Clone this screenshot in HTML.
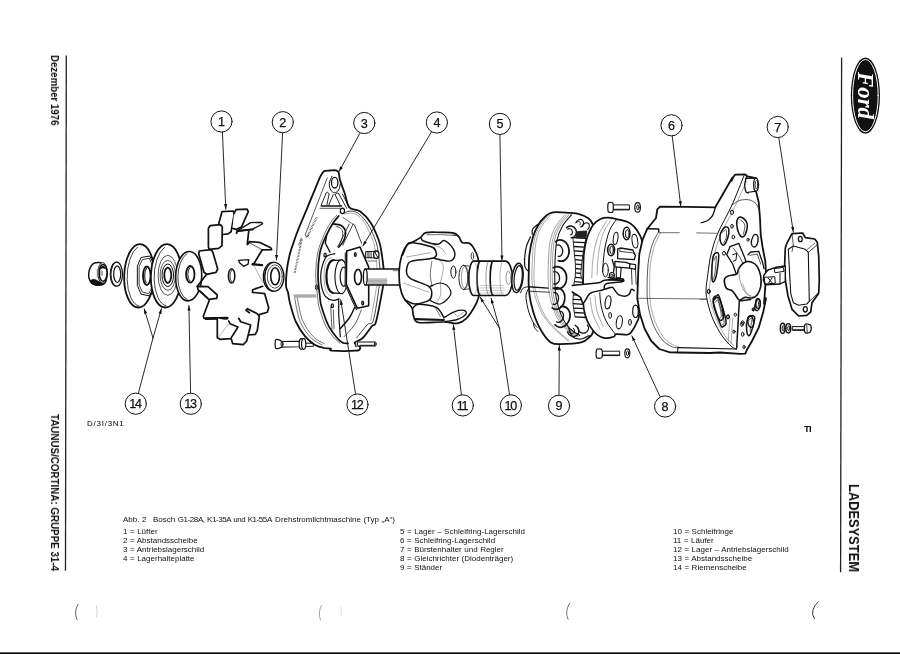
<!DOCTYPE html>
<html lang="de">
<head>
<meta charset="utf-8">
<title>Ladesystem – Abb. 2 Bosch Drehstromlichtmaschine</title>
<style>
html,body{margin:0;padding:0;background:#fff;}
body{width:900px;height:654px;position:relative;overflow:hidden;font-family:"Liberation Sans",sans-serif;color:#111;}
#page{position:absolute;left:0;top:0;width:900px;height:654px;background:#fff;overflow:hidden;}
svg{position:absolute;left:0;top:0;}
.cl{font-family:"Liberation Sans",sans-serif;fill:#111;}
.vt{position:absolute;white-space:nowrap;font-weight:bold;transform-origin:0 0;transform:rotate(90deg) scale(0.89,1);line-height:1;will-change:transform;}
.cap{will-change:transform;position:absolute;white-space:nowrap;font-size:8px;line-height:9.1px;color:#111;word-spacing:0.3px;}
.cap div{height:9.1px;}
.bar{position:absolute;left:0;top:652px;width:900px;height:2px;background:#222;}
.vl{position:absolute;width:1.3px;background:#222;}
</style>
</head>
<body>
<div id="page">
<div class="vt" id="dez" style="left:60.1px;top:54.8px;font-size:11px;transform:rotate(90deg) scale(0.88,1);">Dezember 1976</div>
<div class="vt" id="tau" style="left:59.9px;top:413.8px;font-size:11px;">TAUNUS/CORTINA: GRUPPE 31-4</div>
<div class="vt" id="lad" style="left:862.3px;top:483.8px;font-size:15px;transform:rotate(90deg) scale(0.859,1);">LADESYSTEM</div>
<div class="cap" id="c0" style="left:123.3px;top:514.7px;"><span id="abb" style="display:inline-block;width:30px;">Abb. 2</span><span id="bosch">Bosch <span style="letter-spacing:-0.42px;word-spacing:0.6px;">G1-28A, K1-35A und K1-55A</span><span style="margin-left:3.3px;"></span>Drehstromlichtmaschine (Typ „A“)</span></div>
<div class="cap" id="c1" style="left:123.3px;top:527.2px;">
<div>1 = Lüfter</div><div>2 = Abstandsscheibe</div><div>3 = Antriebslagerschild</div><div>4 = Lagerhalteplatte</div></div>
<div class="cap" id="c2" style="left:400px;top:527.2px;">
<div>5 = Lager – Schleifring-Lagerschild</div><div>6 = Schleifring-Lagerschild</div><div>7 = Bürstenhalter und Regler</div><div>8 = Gleichrichter (Diodenträger)</div><div>9 = Ständer</div></div>
<div class="cap" id="c3" style="left:672.8px;top:527.2px;">
<div>10 = Schleifringe</div><div>11 = Läufer</div><div>12 = Lager – Antriebslagerschild</div><div>13 = Abstandsscheibe</div><div>14 = Riemenscheibe</div></div>
<div class="cap" id="fig" style="left:86.7px;top:419.2px;font-size:8px;letter-spacing:0.75px;color:#000;">D/3I/3N1</div>
<div class="cap" id="ti" style="left:804.3px;top:423.6px;font-size:9.5px;font-weight:bold;letter-spacing:-0.8px;">TI</div>
<svg width="900" height="654" viewBox="0 0 900 654" stroke-linecap="round" stroke-linejoin="round">
<line x1="66.3" y1="55.5" x2="65.5" y2="570.7" stroke="#222" stroke-width="1.3" stroke-linecap="butt"/>
<line x1="841.6" y1="57.5" x2="840.6" y2="572.3" stroke="#222" stroke-width="1.3" stroke-linecap="butt"/>
<ellipse cx="865.4" cy="95.6" rx="14.6" ry="38.2" fill="#111"/>
<ellipse cx="865.4" cy="95.6" rx="12.8" ry="36.1" fill="none" stroke="#fff" stroke-width="1"/>
<text transform="translate(858.2 72) rotate(90)" font-family="Liberation Serif,serif" font-style="italic" font-weight="bold" font-size="23" fill="#fff" textLength="47" lengthAdjust="spacingAndGlyphs">Ford</text>
<line x1="222.4" y1="131.8" x2="225.8" y2="209.2" stroke="#111" stroke-width="0.9"/>
<path d="M225.8 209.2 L224 204.3 L227.2 204.1 Z" fill="#111"/>
<line x1="282.6" y1="132.8" x2="276.4" y2="260" stroke="#111" stroke-width="0.9"/>
<path d="M276.4 260 L275 254.9 L278.2 255.1 Z" fill="#111"/>
<line x1="153" y1="338" x2="144.2" y2="308.8" stroke="#111" stroke-width="0.9"/>
<path d="M144.2 308.8 L147.2 313.1 L144.1 314 Z" fill="#111"/>
<line x1="153" y1="338" x2="161.4" y2="308.8" stroke="#111" stroke-width="0.9"/>
<path d="M161.4 308.8 L161.6 314 L158.5 313.2 Z" fill="#111"/>
<line x1="138.3" y1="393.5" x2="153" y2="338" stroke="#111" stroke-width="0.9"/>
<line x1="190.6" y1="393.3" x2="188.9" y2="305.5" stroke="#111" stroke-width="0.9"/>
<path d="M188.9 305.5 L190.6 310.5 L187.4 310.5 Z" fill="#111"/>
<path d="M92.5 264.2 C94.2 262.2 97.1 262.3 99.2 262.5 C101.2 262.7 103.7 263.6 105 265.5 C106.3 267.4 106.8 271.3 106.8 274.2 C106.8 277 106.4 280.8 105 282.7 C103.6 284.5 100.6 285.1 98.3 285.2 C96.1 285.2 93.3 284.8 91.7 283 C90.1 281.2 88.5 277.3 88.7 274.2 C88.8 271 90.8 266.1 92.5 264.2 Z" fill="#fff" stroke="#111" stroke-width="1.5" />
<ellipse cx="102.6" cy="272.9" rx="4.7" ry="10.3" fill="#fff" stroke="#111" stroke-width="0.9"/>
<ellipse cx="103.1" cy="272.9" rx="4" ry="8.4" fill="#fff" stroke="#111" stroke-width="1.6"/>
<path d="M99.57186544342508 270.03058103975536 Q102.93577981651376 261.4678899082569 106.60550458715596 270.03058103975536 Q102.93577981651376 266.43730886850153 99.57186544342508 270.03058103975536 Z" fill="#111"/>
<line x1="100.6" y1="271" x2="100.6" y2="275.2" stroke="#555" stroke-width="0.5"/>
<line x1="101.6" y1="271" x2="101.6" y2="275.2" stroke="#555" stroke-width="0.5"/>
<line x1="102.5" y1="271" x2="102.5" y2="275.2" stroke="#555" stroke-width="0.5"/>
<path d="M90.7 280.6 C91.1 279.9 93 279.2 94.5 279.4 C96.1 279.7 98.6 281.3 100 282.1 C101.5 282.9 103.8 283.6 103.3 284.2 C102.8 284.7 99 285.4 97.2 285.3 C95.4 285.3 93.3 284.6 92.2 283.8 C91.1 283 90.3 281.3 90.7 280.6 Z" fill="#111" stroke="#111" stroke-width="0.8" />
<line x1="97.2" y1="269.1" x2="97.2" y2="277.5" stroke="#666" stroke-width="0.5"/>
<line x1="98" y1="269.5" x2="98" y2="276.8" stroke="#888" stroke-width="0.5"/>
<ellipse cx="115.7" cy="274.2" rx="5.5" ry="12" fill="#fff" stroke="#111" stroke-width="1"/>
<ellipse cx="116.7" cy="274.2" rx="5.8" ry="12" fill="#fff" stroke="#111" stroke-width="1.2"/>
<ellipse cx="117.2" cy="274.2" rx="3.5" ry="8.3" fill="#fff" stroke="#111" stroke-width="1.2"/>
<ellipse cx="139.2" cy="275.8" rx="15" ry="31.7" fill="#fff" stroke="#111" stroke-width="1.8" transform="rotate(2 139.2 275.8)"/>
<path d="M138.9 306 A14 30.3 2 0 1 137.4 247.2" fill="none" stroke="#111" stroke-width="0.8"/>
<path d="M137.5 265.8 L141 257.5 L149.7 256 L153.7 264.2 L153.7 287.5 L149.2 295.8 L141 294.2 L137.5 285.8 Z" fill="#fff" stroke="#111" stroke-width="1" />
<path d="M139.3 266.3 L142.3 259.7 L149.3 258.3 L152.3 265 L152.3 286.7 L148.7 293.7 L142.3 292 L139.3 285.3 Z" fill="none" stroke="#111" stroke-width="0.8" />
<ellipse cx="146.8" cy="275.8" rx="3.8" ry="9.3" fill="#fff" stroke="#111" stroke-width="1.8"/>
<path d="M146.1 282.8 A2.8 8 0 0 1 146.5 268.3" fill="none" stroke="#111" stroke-width="1"/>
<ellipse cx="166.2" cy="275.8" rx="15.3" ry="31.7" fill="#fff" stroke="#111" stroke-width="1.8" transform="rotate(2 166.2 275.8)"/>
<path d="M165.9 305.7 A14 30 2 0 1 164.4 247.5" fill="none" stroke="#111" stroke-width="0.8"/>
<ellipse cx="167.8" cy="275.3" rx="9.7" ry="20" fill="none" stroke="#111" stroke-width="0.7"/>
<ellipse cx="167.8" cy="275.3" rx="7.7" ry="15" fill="none" stroke="#111" stroke-width="0.7"/>
<ellipse cx="167.8" cy="275.3" rx="5.8" ry="11.3" fill="none" stroke="#111" stroke-width="1"/>
<ellipse cx="167.8" cy="275.3" rx="3.5" ry="7.7" fill="#fff" stroke="#111" stroke-width="1.8"/>
<ellipse cx="188.7" cy="276.2" rx="13" ry="24.7" fill="#fff" stroke="#111" stroke-width="1.6" transform="rotate(2 188.7 276.2)"/>
<path d="M187.2 299.4 A12.3 23.7 2 0 1 186.7 253.8" fill="none" stroke="#111" stroke-width="0.8"/>
<ellipse cx="190.3" cy="274.3" rx="4.2" ry="8.3" fill="#fff" stroke="#111" stroke-width="1.8"/>
<path d="M189.9 281.1 A3.2 7.2 0 0 1 189.9 267.6" fill="none" stroke="#111" stroke-width="0.9"/>
<path d="M199.3 251 L210.7 249.7 L212.7 251.7 L217.7 269 L216 272.3 L206.7 274.3 L204 272.3 L198.7 253.7 Z" fill="#fff" stroke="#111" stroke-width="1.7" />
<path d="M206.7 274.3 L197.3 286.3" fill="none" stroke="#111" stroke-width="1.7" />
<path d="M197.3 286.3 L208 286.7 L217.3 295 L216.7 298.3 L208.7 299.4 L198 289.7 Z" fill="#fff" stroke="#111" stroke-width="1.7" />
<line x1="200" y1="290.3" x2="208" y2="297.7" stroke="#111" stroke-width="0.7"/>
<path d="M218.7 223.7 L222 211.7 L233.3 211 L234.3 213.7 L231.1 231.7 L228 233.9 L222.7 234.5" fill="#fff" stroke="#111" stroke-width="1.7" />
<path d="M234 213.7 L236 209.7 L247.1 209.1 L248.3 211.7 L241.7 226.7 L236 229.4 L232.4 228.3" fill="#fff" stroke="#111" stroke-width="1.7" />
<path d="M210 225.7 L220.4 224.6 L222.3 227 L222 245.7 L218.7 248.3 L209.3 249.4 L208.4 247 L208.4 228.3 Z" fill="#fff" stroke="#111" stroke-width="1.7" />
<path d="M237.3 230.7 L250.7 222.6 L261.7 222.3 L262.7 223.8 L252.7 229.1 L238.7 231.3 Z" fill="#fff" stroke="#111" stroke-width="1.3" />
<path d="M236.7 233 L237.3 230.7 L252.7 229.4" fill="none" stroke="#111" stroke-width="2" />
<path d="M248.7 231.3 L247.3 244.1" fill="none" stroke="#111" stroke-width="1.7" />
<path d="M247.6 244.6 L249.3 241.7 L259.3 242.3 L270.7 247.7 L271.6 249.7 L262 249.9" fill="#fff" stroke="#111" stroke-width="1.7" />
<line x1="249.3" y1="242.7" x2="262" y2="249.7" stroke="#111" stroke-width="0.7"/>
<path d="M262 250.3 L254.3 263 L252.7 264.3" fill="none" stroke="#111" stroke-width="1.7" />
<path d="M252.7 264.3 L262 265.1" fill="none" stroke="#111" stroke-width="2.4" />
<line x1="254.3" y1="266.3" x2="262.7" y2="282.3" stroke="#666" stroke-width="0.5"/>
<path d="M238.7 260.3 L248.7 259.7 L248.1 264.1 L243.6 266.3 L239.6 262.7 Z" fill="none" stroke="#111" stroke-width="1.3" />
<ellipse cx="231.6" cy="275.9" rx="3.2" ry="7.2" fill="none" stroke="#111" stroke-width="1.5"/>
<path d="M231.6 281.7 A2.4 6.1 0 0 1 231.6 270.2" fill="none" stroke="#111" stroke-width="0.8"/>
<path d="M262.7 286.3 L252.7 289.7 L252.4 292.3 L264.7 293.7 L268.7 307.7 L267.3 312.3 L259.3 314.6" fill="none" stroke="#111" stroke-width="1.7" />
<path d="M248.7 335 L255.3 334.3 L257.3 330.3 L259.3 316.3 L257.3 313.7 L247.3 308.7 L246 310.3 L249.3 312.7" fill="none" stroke="#111" stroke-width="1.7" />
<path d="M231.3 339 L232.7 343.7 L243.3 344.6 L246.7 341 L250.7 325 L240.7 321.7 L238.7 318.3" fill="#fff" stroke="#111" stroke-width="1.7" />
<path d="M227.3 318.3 L204 318.3 L203.3 316.3 L209.3 300.3" fill="none" stroke="#111" stroke-width="1.7" />
<line x1="206" y1="318.6" x2="227.3" y2="318.1" stroke="#111" stroke-width="2.6"/>
<path d="M217.3 318.3 L217.3 337.7 L220 339.3 L230.7 338.6 L238 327 L230 323.7 L228.7 321" fill="#fff" stroke="#111" stroke-width="1.7" />
<line x1="218.7" y1="337" x2="228.7" y2="323.7" stroke="#666" stroke-width="0.5"/>
<ellipse cx="272.9" cy="276.7" rx="9.6" ry="14.4" fill="#fff" stroke="#111" stroke-width="1.2"/>
<ellipse cx="274.3" cy="276.7" rx="9.6" ry="14.4" fill="#fff" stroke="#111" stroke-width="1.3"/>
<ellipse cx="274.8" cy="276.5" rx="7.5" ry="11.7" fill="none" stroke="#111" stroke-width="0.7"/>
<ellipse cx="275.1" cy="276.3" rx="4.4" ry="8.5" fill="#fff" stroke="#111" stroke-width="1.6"/>
<path d="M276 341.6 L300 341.3 L300 346.7 L276 347.1" fill="#fff" stroke="#111" stroke-width="1.1" />
<path d="M282 341.7 C281.1 340.5 277.8 339.5 276.7 339.4 C275.6 339.3 275.6 339.7 275.3 341 C275.1 342.3 275.1 345.7 275.3 347 C275.6 348.3 275.6 348.8 276.7 348.7 C277.8 348.7 281.1 347.8 282 346.6 C282.9 345.4 282.9 342.9 282 341.7 Z" fill="#fff" stroke="#111" stroke-width="1.2" />
<ellipse cx="282" cy="344.1" rx="0.9" ry="2.7" fill="#fff" stroke="#111" stroke-width="1"/>
<path d="M305.3 343.1 L313.3 343.3 L313.3 346.3 L305.3 346.5" fill="#fff" stroke="#111" stroke-width="1" />
<ellipse cx="301.3" cy="344" rx="2.1" ry="5.3" fill="#fff" stroke="#111" stroke-width="1.2"/>
<ellipse cx="303.7" cy="344" rx="2.1" ry="5.3" fill="#fff" stroke="#111" stroke-width="1.2"/>
<path d="M324 171.3 C325.7 170.2 328 170.7 330 170.5 C332 170.4 334.6 170 336 170.4 C337.4 170.8 338 171.1 338.7 172.7 C339.3 174.3 339 176.6 340 180 C341 183.4 343.1 188.8 344.7 193.3 C346.2 197.9 346.8 204.3 349.3 207.3 C351.9 210.3 356.4 208.8 360 211.3 C363.6 213.9 367.6 217.9 370.7 222.7 C373.8 227.4 376.9 235.3 378.7 240 C380.4 244.7 380.4 245.2 381.3 251 C382.2 256.8 383.8 268.8 384 275 C384.2 281.2 384 280.6 382.7 288.3 C381.3 296.1 377.8 315.4 376 321.7 C374.2 327.9 374.2 323.3 372 326 C369.8 328.7 365.6 335.2 362.7 338 C359.8 340.8 355.2 341.3 354.7 342.7 C354.1 344 358.4 345 359.3 346 C360.2 347 360.6 347.9 360 348.7 C359.4 349.4 360.7 350.3 356 350.7 C351.3 351 336.2 351 332 350.7 C327.8 350.3 332 349.1 330.7 348.7 C329.3 348.2 326.7 348.7 324 348 C321.3 347.3 317.8 346.6 314.7 344.7 C311.6 342.8 308.4 340.4 305.3 336.7 C302.2 332.9 298.6 327.6 296 322 C293.4 316.4 291.3 308.3 290 303.3 C288.7 298.4 288.7 295.3 288 292.3 C287.3 289.4 286.2 289.4 286 285.7 C285.8 281.9 286.3 274.8 286.9 269.7 C287.5 264.6 288.7 258.9 289.6 255 C290.5 251.1 291 250.2 292.3 246.3 C293.6 242.5 294.9 238.2 297.3 232 C299.7 225.8 304 215.8 306.7 209.3 C309.3 202.9 311.1 198.7 313.3 193.3 C315.6 188 318.2 181 320 177.3 C321.8 173.7 322.3 172.5 324 171.3 Z" fill="#fff" stroke="#111" stroke-width="1.8" />
<path d="M327.3 178 L321.3 193.3 L307.3 229.3 L305.3 234.7 L306.7 237.3 L308.7 234.7" fill="none" stroke="#111" stroke-width="0.7" />
<path d="M307.3333333333333 236.66666666666669 L316.6666666666667 217.33333333333334" stroke="#111" stroke-width="2" stroke-dasharray="0.5 1" fill="none" stroke-linecap="butt"/>
<path d="M294.6666666666667 273.0 L302.0 238.33333333333334" stroke="#111" stroke-width="2" stroke-dasharray="0.5 1" fill="none" stroke-linecap="butt"/>
<path d="M298.6666666666667 245.33333333333331 L301.3333333333333 238.0" stroke="#111" stroke-width="1.6" stroke-dasharray="0.5 1" fill="none" stroke-linecap="butt"/>
<ellipse cx="334.7" cy="182.7" rx="3.2" ry="5.3" fill="none" stroke="#111" stroke-width="1.3"/>
<path d="M332 176.3 C331.6 177.4 329.6 181 329.3 183.3 C329.1 185.6 329.8 188.4 330.7 190 C331.6 191.6 333.3 192.8 334.7 192.8 C336 192.8 337.7 191.5 338.7 190 C339.6 188.5 340 185 340.3 184" fill="none" stroke="#111" stroke-width="1" />
<path d="M326 193.3 L321.3 205.1" fill="none" stroke="#111" stroke-width="0.9" />
<path d="M329.1 194 L326.9 204.7" fill="none" stroke="#111" stroke-width="0.9" />
<path d="M326 193.3 C326.2 193.1 326.8 191.9 327.3 192 C327.8 192.1 328.8 193.7 329.1 194" fill="none" stroke="#111" stroke-width="0.9" />
<path d="M333.3 194.4 L328.7 205.3" fill="none" stroke="#111" stroke-width="0.9" />
<path d="M335.3 194.9 L340.3 205.6" fill="none" stroke="#111" stroke-width="0.9" />
<path d="M338.7 193.6 L346.7 208.3" fill="none" stroke="#111" stroke-width="0.9" />
<path d="M335.3 194.9 C335.6 194.6 336.1 193.3 336.7 193.1 C337.2 192.8 338.3 193.5 338.7 193.6" fill="none" stroke="#111" stroke-width="0.9" />
<path d="M342.4 194 L349.3 207.3" fill="none" stroke="#111" stroke-width="0.9" />
<line x1="321.3" y1="206" x2="341.6" y2="206" stroke="#111" stroke-width="1.6"/>
<line x1="320" y1="208.3" x2="340" y2="208.3" stroke="#111" stroke-width="0.7"/>
<ellipse cx="342.4" cy="210.9" rx="2.1" ry="2.7" fill="#fff" stroke="#111" stroke-width="1.2"/>
<path d="M344.7 212.7 C345.7 212.4 348.3 210.9 350.7 211.1 C353 211.2 355.8 211.4 358.7 213.6 C361.6 215.8 365.2 219.9 368 224.3 C370.8 228.7 373.7 235.5 375.3 240 C377 244.5 377.2 245.2 378 251 C378.8 256.8 380.1 268.8 380.3 275 C380.4 281.2 380.1 280.8 378.9 288.3 C377.8 295.9 375.3 314.3 373.3 320.3 C371.4 326.4 370.1 321.7 367.3 324.7 C364.6 327.6 358.4 335.8 356.7 338" fill="none" stroke="#111" stroke-width="0.8" />
<path d="M344 214.4 C345.1 214.2 348.3 212.8 350.7 213.1 C353 213.3 355.4 213.7 358 215.7 C360.6 217.8 363.6 221.3 366 225.3 C368.4 229.4 371.1 235.7 372.7 240 C374.2 244.3 374.6 245.2 375.3 251 C376.1 256.8 377.2 268.8 377.3 275 C377.5 281.2 377.4 280.8 376.3 288.3 C375.2 295.9 371.6 315 370.7 320.3" fill="none" stroke="#555" stroke-width="0.5" />
<path d="M338.7 216 C337.8 217.1 335.3 219.6 333.3 222.7 C331.3 225.8 328.9 229.7 326.7 234.7 C324.4 239.6 321.4 245.6 320 252.3 C318.6 259.1 318 267.4 318 275 C318 282.6 319.4 292.5 320 297.7 C320.6 302.8 320 301.5 321.3 306 C322.7 310.5 325.6 319.6 328 324.7 C330.4 329.8 333.6 333.7 336 336.7 C338.4 339.7 340.7 341.6 342.7 342.7 C344.7 343.8 347.1 343.2 348 343.3" fill="none" stroke="#111" stroke-width="1.7" />
<path d="M336.7 215.3 C335.8 216.4 333.4 218.5 331.3 221.6 C329.3 224.7 326.6 229 324.4 234.1 C322.2 239.3 319.3 245.5 317.9 252.3 C316.4 259.1 315.8 267.4 315.7 275 C315.7 282.6 317.2 292.4 317.7 297.7 C318.3 302.9 317.7 302.1 318.9 306.7 C320.2 311.2 322.9 319.9 325.3 324.9 C327.7 330 330.9 333.9 333.3 336.9 C335.8 340 338.9 342 340 343.1" fill="none" stroke="#111" stroke-width="0.6" />
<path d="M294 295.1 L316 295.1" fill="none" stroke="#111" stroke-width="0.6" />
<path d="M294.4 296.9 L316 296.9" fill="none" stroke="#111" stroke-width="0.6" />
<path d="M297.3 298 C298.2 301.8 300 314.2 302.7 320.7 C305.3 327.1 309.8 332.8 313.3 336.7 C316.9 340.5 322.2 342.4 324 343.6" fill="none" stroke="#111" stroke-width="0.6" />
<path d="M294.7 298 C295.6 301.9 297.3 314.7 300 321.3 C302.7 328 307.3 333.8 310.9 337.7 C314.6 341.7 320.2 343.7 322 344.9" fill="none" stroke="#111" stroke-width="0.6" />
<path d="M333.3 224 C334.6 224.2 338.7 224.2 340.7 225.3 C342.7 226.4 344.8 228.2 345.3 230.7 C345.9 233.1 345.1 237.2 344 240 C342.9 242.8 339.6 246.1 338.7 247.3" fill="none" stroke="#111" stroke-width="1.6" />
<path d="M336 226.7 C336.7 226.8 338.9 226.8 340 227.7 C341.1 228.6 342.4 230 342.7 232 C342.9 234 342.5 237.6 341.6 240 C340.7 242.4 338 245.6 337.3 246.7" fill="none" stroke="#111" stroke-width="0.7" />
<line x1="349.3" y1="224" x2="338.7" y2="245.3" stroke="#111" stroke-width="0.8"/>
<line x1="353.1" y1="224" x2="342.7" y2="245.3" stroke="#111" stroke-width="0.8"/>
<line x1="354.7" y1="225.3" x2="361.6" y2="243.3" stroke="#111" stroke-width="0.8"/>
<line x1="342.7" y1="217.3" x2="354.7" y2="225.3" stroke="#111" stroke-width="0.6"/>
<path d="M326.7 235 L325.3 243 L330 252.3" fill="none" stroke="#111" stroke-width="1.4" />
<path d="M338.7 298 L338.7 314 L340.3 336.7" fill="none" stroke="#111" stroke-width="1.2" />
<path d="M330.7 307.3 L332 330" fill="none" stroke="#111" stroke-width="0.7" />
<path d="M333.3 310 L334 328.7" fill="none" stroke="#111" stroke-width="0.7" />
<path d="M354.7 307.3 C353.8 309.1 351.8 314.4 349.3 318 C346.9 321.6 341.6 326.9 340 328.7" fill="none" stroke="#111" stroke-width="1.4" />
<path d="M361.3 310 C360.2 312.4 357.6 320.2 354.7 324.7 C351.8 329.1 345.8 334.7 344 336.7" fill="none" stroke="#111" stroke-width="0.7" />
<path d="M334.7 253.7 C333.3 254.1 328.7 254.3 326.7 256.3 C324.6 258.3 323.4 262.3 322.4 265.7 C321.4 269 320.7 272.6 320.7 276.3 C320.6 280.1 321.1 284.9 322 288.3 C322.9 291.8 324.1 295 326 297 C327.9 299 331.2 300 333.3 300.3 C335.4 300.7 337.8 299.2 338.7 299" fill="#fff" stroke="#111" stroke-width="1.2" />
<path d="M331.3 257.7 C330.4 258.3 327.2 258.6 326 261.7 C324.8 264.8 324 271.4 324 276.3 C324 281.2 324.8 287.7 326 291 C327.2 294.3 330.4 295.4 331.3 296.3" fill="none" stroke="#555" stroke-width="0.5" />
<ellipse cx="325.1" cy="255" rx="1.1" ry="1.9" fill="none" stroke="#111" stroke-width="1.3"/>
<ellipse cx="332.3" cy="305.7" rx="1.1" ry="1.9" fill="none" stroke="#111" stroke-width="1.3"/>
<ellipse cx="316.7" cy="287.3" rx="1.3" ry="2.4" fill="none" stroke="#111" stroke-width="1"/>
<ellipse cx="333.3" cy="276.6" rx="6.9" ry="16.3" fill="#fff" stroke="#111" stroke-width="2.2"/>
<path d="M333.3 260.3 L342.7 260.1 L342.7 293.4 L333.3 292.9" fill="#fff" stroke="#fff" stroke-width="0.1" />
<line x1="332.7" y1="260.3" x2="342.7" y2="260.1" stroke="#111" stroke-width="1.2"/>
<line x1="332.7" y1="292.9" x2="342.7" y2="293.7" stroke="#111" stroke-width="1.2"/>
<ellipse cx="341.3" cy="276.7" rx="6.4" ry="16.8" fill="#fff" stroke="#111" stroke-width="1.1"/>
<ellipse cx="343.7" cy="276.7" rx="3.5" ry="9.6" fill="none" stroke="#111" stroke-width="1.2"/>
<path d="M345.3 253 L345.1 285 L356.3 309.7 L358 308.3" fill="#fff" stroke="#111" stroke-width="1" />
<path d="M346.7 251 L360 247 L368.7 267 L368.7 305.7 L357.3 308.3 L346.3 284.3 Z" fill="#fff" stroke="#111" stroke-width="1.6" />
<ellipse cx="355.3" cy="254.5" rx="0.9" ry="1.9" fill="none" stroke="#111" stroke-width="1.4"/>
<ellipse cx="362.7" cy="303" rx="0.9" ry="1.9" fill="none" stroke="#111" stroke-width="1.4"/>
<ellipse cx="358" cy="277" rx="3.5" ry="7.6" fill="#fff" stroke="#111" stroke-width="1.6"/>
<path d="M365.3 269 L408 269 L408 285 L365.3 285" fill="#fff" stroke="#111" stroke-width="1.3" />
<ellipse cx="365.3" cy="277" rx="1.9" ry="8" fill="#fff" stroke="#111" stroke-width="1.3"/>
<line x1="368" y1="279" x2="386.7" y2="279" stroke="#333" stroke-width="0.5"/>
<line x1="368" y1="280.3" x2="386.7" y2="280.3" stroke="#333" stroke-width="0.5"/>
<line x1="368" y1="281.7" x2="386.7" y2="281.7" stroke="#333" stroke-width="0.5"/>
<line x1="368" y1="283" x2="386.7" y2="283" stroke="#333" stroke-width="0.5"/>
<line x1="368" y1="284.1" x2="386.7" y2="284.1" stroke="#333" stroke-width="0.5"/>
<line x1="393.3" y1="270.7" x2="400" y2="270.7" stroke="#111" stroke-width="0.6"/>
<path d="M366 251.7 L375.3 251.3 L375.3 257.9 L366 257.7 Z" fill="#fff" stroke="#111" stroke-width="1" />
<line x1="367.3" y1="251.8" x2="367.3" y2="257.7" stroke="#111" stroke-width="0.6"/>
<line x1="368.7" y1="251.8" x2="368.7" y2="257.7" stroke="#111" stroke-width="0.6"/>
<line x1="370" y1="251.8" x2="370" y2="257.7" stroke="#111" stroke-width="0.6"/>
<line x1="371.3" y1="251.8" x2="371.3" y2="257.7" stroke="#111" stroke-width="0.6"/>
<ellipse cx="376.3" cy="254.7" rx="2.7" ry="3.7" fill="#fff" stroke="#111" stroke-width="1.3"/>
<line x1="374.9" y1="252.1" x2="377.6" y2="257.4" stroke="#111" stroke-width="1"/>
<line x1="368" y1="261" x2="376" y2="261" stroke="#111" stroke-width="0.6"/>
<path d="M355.3 342 L375.3 342 L375.3 346 L355.3 346" fill="#fff" stroke="#111" stroke-width="1.1" />
<ellipse cx="375.3" cy="344" rx="0.8" ry="2" fill="#fff" stroke="#111" stroke-width="1"/>
<ellipse cx="356.3" cy="344" rx="1.1" ry="2.4" fill="#fff" stroke="#111" stroke-width="1"/>
<line x1="360" y1="345.3" x2="374" y2="345.3" stroke="#111" stroke-width="1"/>
<line x1="360.1" y1="133" x2="339.1" y2="171.5" stroke="#111" stroke-width="0.9"/>
<path d="M339.1 171.5 L340.1 166.3 L342.9 167.9 Z" fill="#111"/>
<line x1="431.5" y1="131.9" x2="362.9" y2="246" stroke="#111" stroke-width="0.9"/>
<path d="M362.9 246 L364.1 240.9 L366.8 242.5 Z" fill="#111"/>
<line x1="355.5" y1="393.5" x2="340.7" y2="299.7" stroke="#111" stroke-width="0.9"/>
<path d="M340.7 299.7 L343.1 304.4 L339.9 304.9 Z" fill="#111"/>
<line x1="461.4" y1="394.9" x2="453.3" y2="324.8" stroke="#111" stroke-width="0.9"/>
<path d="M453.3 324.8 L455.5 329.6 L452.3 330 Z" fill="#111"/>
<path d="M426.1 232.6 C429.5 231.7 435.8 232.3 440.4 232.4 C445 232.5 450.8 232.3 453.9 233.1 C456.9 233.8 457.5 235.2 458.9 236.8 C460.3 238.4 460.4 241.5 462.3 242.6 C464.1 243.8 467.6 241.9 469.8 243.5 C472.1 245 474.3 248.9 475.7 251.9 C477.2 254.8 477.9 256.7 478.6 261.1 C479.3 265.6 479.9 272.8 479.9 278.8 C479.9 284.8 479.7 292.2 478.6 297.3 C477.5 302.3 475.4 305.4 473.2 309 C471 312.7 468.3 316.7 465.6 319.1 C463 321.5 460.9 322.8 457.2 323.3 C453.6 323.8 450.2 322.1 443.8 322 C437.3 321.8 423.6 323.5 418.6 322.5 C413.5 321.4 414.6 318.3 413.5 315.8 C412.4 313.2 413.4 310.2 411.8 307.4 C410.3 304.6 406.2 302.3 404.3 298.9 C402.3 295.6 400.9 291.9 400.1 287.2 C399.2 282.4 399 275.7 399.2 270.4 C399.5 265.1 400.5 259.5 401.8 255.3 C403 251.1 405.1 247.3 406.8 245.2 C408.5 243.1 409.6 243.9 411.8 242.6 C414.1 241.4 417.9 239.3 420.3 237.6 C422.6 235.9 422.8 233.4 426.1 232.6 Z" fill="#fff" stroke="#111" stroke-width="1.7" />
<path d="M402.6 255.3 C403.3 253.6 405.3 247.6 406.8 245.5 C408.3 243.4 407.5 242.4 411.5 242.6 C415.6 242.9 427.1 245.4 431.2 246.8 C435.2 248.2 435.2 249.2 435.7 251.1 C436.2 252.9 438 256.1 434 257.8 C430.1 259.5 416.2 259.9 411.8 261.1 C407.5 262.4 408.5 263.2 407.6 265.3 C406.8 267.4 406.2 271.5 406.8 273.7 C407.4 276 407.4 276.7 411 278.8 C414.6 280.9 425.2 284.1 428.7 286.3 C432.1 288.6 431.5 290 431.7 292.2 C431.8 294.5 432.2 297.8 429.5 299.8 C426.8 301.8 419.3 304 415.2 304 C411.1 304 406.8 300.5 405.1 299.8" fill="none" stroke="#111" stroke-width="1.5" />
<path d="M421.1 238.1 C421.5 238.6 420.8 239.9 423.6 241 C426.4 242 434.5 244.4 437.9 244.3 C441.3 244.2 441.7 239.9 444.1 240.5 C446.6 241 450.8 245.1 452.5 247.7 C454.3 250.3 455.3 253.9 454.7 256.1 C454.1 258.3 452.6 260.8 449.2 261.1 C445.7 261.5 436.6 258.8 434 258.3" fill="none" stroke="#111" stroke-width="1.4" />
<path d="M430.3 286.3 C432 285.8 437.3 282.8 440.4 283 C443.5 283.2 447.2 285.4 448.8 287.5 C450.4 289.6 451.6 292.8 450.2 295.6 C448.8 298.3 443.7 303.2 440.4 304 C437.1 304.8 432 301.2 430.3 300.6" fill="none" stroke="#111" stroke-width="1.2" />
<path d="M412.7 308.2 C413.7 307.5 414.6 304.5 418.6 304.3 C422.5 304.2 432 305.2 436.2 307.4 C440.4 309.5 442.5 315.8 443.8 317.4" fill="none" stroke="#111" stroke-width="1.4" />
<path d="M443.8 317.8 C445.6 316.7 451.3 312.8 454.7 311.6 C458.1 310.3 462.1 310 463.9 310.4 C465.8 310.8 467.1 312.6 466 314.1 C464.8 315.6 460.6 318.2 457.2 319.5 C453.8 320.7 447.4 321.1 445.5 321.5" fill="none" stroke="#111" stroke-width="1.4" />
<line x1="415.2" y1="319.1" x2="443.8" y2="320" stroke="#111" stroke-width="2.2"/>
<path d="M427 234.7 L440.4 234.6 L453 235.4" fill="none" stroke="#111" stroke-width="0.6" />
<path d="M432 261.1 C431.7 263.2 430.3 269.5 430.3 273.7 C430.3 277.9 431.7 284.2 432 286.3" fill="none" stroke="#111" stroke-width="0.6" />
<path d="M406.8 256.9 L430.3 252.7" fill="none" stroke="#555" stroke-width="0.5" />
<path d="M403.4 283 L428.7 292.2" fill="none" stroke="#555" stroke-width="0.5" />
<path d="M424.5 241.8 C427.1 242.8 436.9 245.7 440.4 247.7 C443.9 249.6 444.6 252.6 445.5 253.6" fill="none" stroke="#555" stroke-width="0.5" />
<path d="M435.4 307.7 L440.4 316.6" fill="none" stroke="#111" stroke-width="0.6" />
<path d="M440.4 282.1 C440.4 284.4 441.3 291.9 440.4 295.6 C439.6 299.2 436.2 302.6 435.4 304" fill="none" stroke="#555" stroke-width="0.5" />
<path d="M453.9 312.4 L457.2 316.6 L463.9 312.4" fill="none" stroke="#555" stroke-width="0.5" />
<path d="M440.4 283 C440.9 280.3 443.4 270.7 443.4 267 C443.4 263.4 440.9 262.1 440.4 261.1" fill="none" stroke="#555" stroke-width="0.5" />
<ellipse cx="453.4" cy="272.1" rx="2.5" ry="6.1" fill="none" stroke="#111" stroke-width="1"/>
<ellipse cx="472.4" cy="256.1" rx="1.3" ry="3.7" fill="none" stroke="#111" stroke-width="0.8"/>
<path d="M459.2 237.1 L456.4 235.4 L453 235.1" fill="none" stroke="#111" stroke-width="1" />
<ellipse cx="463.4" cy="277.4" rx="4.5" ry="12.1" fill="#fff" stroke="#111" stroke-width="0.9"/>
<ellipse cx="465.1" cy="277.4" rx="3.7" ry="11.1" fill="none" stroke="#555" stroke-width="0.6"/>
<path d="M463.4 265.3 L469 266.2" fill="none" stroke="#111" stroke-width="0.8" />
<path d="M463.4 289.5 L469 288.9" fill="none" stroke="#111" stroke-width="0.8" />
<line x1="499.5" y1="328.3" x2="480.2" y2="297.3" stroke="#111" stroke-width="0.9"/>
<path d="M480.2 297.3 L484.2 300.7 L481.5 302.4 Z" fill="#111"/>
<line x1="499.5" y1="328.3" x2="491.1" y2="298.3" stroke="#111" stroke-width="0.9"/>
<path d="M491.1 298.3 L494 302.7 L490.9 303.5 Z" fill="#111"/>
<line x1="509.5" y1="394.6" x2="499.5" y2="328.3" stroke="#111" stroke-width="0.9"/>
<path d="M473.8 261.1 L505.1 261.1 A7.4 17.2 0 0 1 505.1 295.5 L473.8 295.5 A5 17.2 0 0 1 473.8 261.1 Z" fill="#fff" stroke="#111" stroke-width="1.6"/>
<path d="M480.5 295.3 A3.4 17 0 0 1 480.5 261.3" fill="none" stroke="#111" stroke-width="1.6"/>
<path d="M493.2 295.3 A3 17 0 0 1 493.2 261.3" fill="none" stroke="#111" stroke-width="1.6"/>
<path d="M488.4 295 A2.7 16.8 0 0 1 488.4 261.5" fill="none" stroke="#555" stroke-width="0.6"/>
<path d="M502.2 295 A2.4 16.8 0 0 1 502.2 261.5" fill="none" stroke="#777" stroke-width="0.5"/>
<path d="M474.5 261.7 A3.7 16.8 0 0 1 474.5 294.8" fill="none" stroke="#777" stroke-width="0.5"/>
<ellipse cx="508.4" cy="277.9" rx="2.4" ry="6.7" fill="none" stroke="#555" stroke-width="0.6"/>
<line x1="480.2" y1="285.4" x2="503.7" y2="285.4" stroke="#777" stroke-width="0.4"/>
<line x1="480.2" y1="287.9" x2="503.7" y2="287.9" stroke="#777" stroke-width="0.4"/>
<line x1="480.2" y1="290.5" x2="503.7" y2="290.5" stroke="#777" stroke-width="0.4"/>
<line x1="480.2" y1="293" x2="503.7" y2="293" stroke="#777" stroke-width="0.4"/>
<ellipse cx="517.5" cy="277.9" rx="5.5" ry="14.8" fill="#fff" stroke="#111" stroke-width="1.5" transform="rotate(6 517.5 277.9)"/>
<ellipse cx="518.2" cy="277.9" rx="4" ry="12.4" fill="none" stroke="#111" stroke-width="1.2" transform="rotate(6 518.2 277.9)"/>
<line x1="499.9" y1="134.3" x2="502" y2="260.5" stroke="#111" stroke-width="0.9"/>
<path d="M502 260.5 L500.3 255.5 L503.5 255.5 Z" fill="#111"/>
<line x1="559" y1="395.3" x2="559.3" y2="345.4" stroke="#111" stroke-width="0.9"/>
<path d="M559.3 345.4 L560.9 350.4 L557.7 350.4 Z" fill="#111"/>
<path d="M552.8 212.4 C557 211.8 565.8 212.7 570 212.9 C574.3 213.2 575.3 212.9 578.3 213.8 C581.3 214.6 585.5 216.2 587.9 217.9 C590.3 219.6 591.4 220.2 592.7 224.1 C594.1 228 595.5 233.8 596.2 241.3 C596.9 248.7 596.6 259.7 596.9 268.8 C597.1 277.9 597.7 287 597.6 295.6 C597.5 304.2 597 314.2 596.2 320.4 C595.4 326.6 593.9 330 592.7 332.8 C591.6 335.6 591.3 335.6 589.3 337.2 C587.4 338.8 585.9 341.3 581.1 342.4 C576.2 343.6 565.5 344.1 560.4 344.1 C555.4 344.1 553.8 344.3 550.8 342.4 C547.8 340.5 545 336.7 542.5 332.8 C540 328.9 537.6 324.1 535.6 319 C533.7 314 532 307.8 530.8 302.5 C529.7 297.2 529.1 292.5 528.8 287.4 C528.4 282.2 528.6 276.9 528.8 271.6 C528.9 266.2 528.8 260.8 529.4 255 C530.1 249.3 531.4 242.2 532.9 237.2 C534.4 232.1 536.3 228.2 538.4 224.8 C540.5 221.3 542.9 218.6 545.3 216.5 C547.7 214.4 548.7 213 552.8 212.4 Z" fill="#fff" stroke="#111" stroke-width="1.8" />
<path d="M537.7 224.5 C536.9 225.3 533.5 227.5 532.6 229.2 C531.7 230.8 532.3 233.5 532.2 234.4" fill="none" stroke="#111" stroke-width="1.2" />
<path d="M530.4 236.9 C529.7 238.5 527.2 243.1 526.3 246.8 C525.3 250.5 524.8 255.7 524.6 259.2 C524.4 262.6 524.5 265.4 525.2 267.4 C525.9 269.5 528.2 270.9 528.8 271.6" fill="none" stroke="#111" stroke-width="1.2" />
<path d="M528.8 288.1 C528.3 289.3 526.1 292.1 526 295.6 C525.9 299.2 526.9 305 528.1 309.4 C529.2 313.8 531.4 318.8 532.9 321.8 C534.4 324.8 536.3 326.4 537 327.3" fill="none" stroke="#111" stroke-width="1" />
<path d="M533.6 323.2 C533.7 323.9 533.6 325.9 534.3 327.3 C535 328.7 537.1 330.7 537.7 331.4" fill="none" stroke="#111" stroke-width="1" />
<path d="M571.4 214.9 C569.9 216.7 564.9 221.7 562.5 226.1 C560 230.5 558 234.9 556.7 241.3 C555.4 247.7 555.2 257.7 554.9 264.7 C554.6 271.7 554.7 277.6 554.9 283.3 C555.1 288.9 555.3 293.1 556.3 298.4 C557.3 303.7 559 310.1 561.1 314.9 C563.2 319.7 565.6 323.9 568.7 327.3 C571.8 330.7 577.8 334.2 579.7 335.5" fill="none" stroke="#111" stroke-width="1.1" />
<path d="M568.9 214.9 C567.5 216.7 562.5 221.7 560 226.1 C557.5 230.5 555.5 234.9 554.2 241.3 C553 247.7 552.7 257.7 552.4 264.7 C552.1 271.7 552.2 277.6 552.4 283.3 C552.7 288.9 552.9 293.1 554.1 298.4 C555.2 303.7 557 310.1 559.1 314.9 C561.3 319.7 563.7 323.7 566.9 327.3 C570.2 330.8 576.5 334.7 578.4 336.2" fill="none" stroke="#444" stroke-width="0.5" />
<path d="M567 214.9 C565.5 216.7 560.5 221.7 558.1 226.1 C555.6 230.5 553.6 234.9 552.3 241.3 C551 247.7 550.8 257.7 550.5 264.7 C550.2 271.7 550.2 277.6 550.5 283.3 C550.8 288.9 551.1 293.1 552.3 298.4 C553.5 303.7 555.4 310.1 557.6 314.9 C559.8 319.7 562.3 323.7 565.6 327.3 C568.9 330.9 575.5 335.1 577.5 336.6" fill="none" stroke="#444" stroke-width="0.5" />
<path d="M564.8 214.9 C563.3 216.7 558.3 221.7 555.9 226.1 C553.4 230.5 551.4 234.9 550.1 241.3 C548.8 247.7 548.6 257.7 548.3 264.7 C548 271.7 548 277.6 548.3 283.3 C548.6 288.9 549.1 293.1 550.3 298.4 C551.6 303.7 553.5 310.1 555.8 314.9 C558.1 319.7 560.6 323.6 564 327.3 C567.5 331 574.3 335.5 576.4 337.2" fill="none" stroke="#444" stroke-width="0.5" />
<path d="M550.8 214.9 C549.3 216.7 544.3 221.7 541.8 226.1 C539.4 230.5 537.3 234.9 536.1 241.3 C534.8 247.7 534.6 257.7 534.3 264.7 C534 271.7 533.7 277.6 534.3 283.3 C534.8 288.9 536 293.1 537.7 298.4 C539.4 303.7 541.8 310.1 544.6 314.9 C547.3 319.7 550.1 323 554.2 327.3 C558.3 331.6 566.8 338.5 569.4 340.7" fill="none" stroke="#555" stroke-width="0.5" />
<path d="M548.7 214.9 C547.2 216.7 542.2 221.7 539.8 226.1 C537.3 230.5 535.3 234.9 534 241.3 C532.7 247.7 532.5 257.7 532.2 264.7 C531.9 271.7 531.6 277.6 532.2 283.3 C532.8 288.9 534.1 293.1 535.8 298.4 C537.6 303.7 540.1 310.1 542.9 314.9 C545.8 319.7 548.5 322.9 552.8 327.3 C557 331.7 565.7 338.9 568.3 341.2" fill="none" stroke="#555" stroke-width="0.5" />
<path d="M528.8 286.7 L548 288.1" fill="none" stroke="#111" stroke-width="1.4" />
<path d="M529.4 291.2 L549.4 292.2" fill="none" stroke="#111" stroke-width="0.8" />
<path d="M528.8 286.7 C527.8 286.9 524.6 287 523.3 288.1 C521.9 289.1 521 292.1 520.5 292.9" fill="none" stroke="#111" stroke-width="1" />
<path d="M566.6 227.8 A5.4 6 -25 1 1 571.2 237.7" fill="none" stroke="#111" stroke-width="1.5"/>
<path d="M567.7 229.2 A2.7 3.3 -25 1 1 570.4 235" fill="none" stroke="#111" stroke-width="1.1"/>
<path d="M575.8 222.9 A4.5 3.6 -50 1 1 580.8 227.1" fill="none" stroke="#111" stroke-width="1.2"/>
<path d="M576.5 222.7 A2.2 2 -50 1 1 579.5 225.2" fill="none" stroke="#111" stroke-width="0.9"/>
<path d="M582.6 226.5 A4 3.2 -60 1 1 587.7 229.4" fill="none" stroke="#111" stroke-width="1.1"/>
<path d="M555.7 241.6 A8.4 10.6 -8 1 1 558.4 260.6" fill="none" stroke="#111" stroke-width="1.7"/>
<path d="M556.6 245.2 A4.2 5.8 -8 1 1 558.2 256.3" fill="none" stroke="#111" stroke-width="1.3"/>
<path d="M553.3 267.7 A9.4 11.2 0 1 1 553.3 288.1" fill="none" stroke="#111" stroke-width="1.7"/>
<path d="M553.7 271.9 A4.7 6.2 0 1 1 553.7 283.9" fill="none" stroke="#111" stroke-width="1.3"/>
<path d="M554.2 288.4 A8.2 10.8 6 1 1 552.1 307.9" fill="none" stroke="#111" stroke-width="1.7"/>
<path d="M554.1 292.7 A4.1 5.9 6 1 1 552.9 304.1" fill="none" stroke="#111" stroke-width="1.3"/>
<path d="M560.9 306.6 A8.4 10.6 18 1 1 555 324.8" fill="none" stroke="#111" stroke-width="1.7"/>
<path d="M559.9 311.1 A4.2 5.8 18 1 1 556.4 321.8" fill="none" stroke="#111" stroke-width="1.3"/>
<path d="M575.2 325.3 A6.2 5.6 50 1 1 567.4 331.9" fill="none" stroke="#111" stroke-width="1.4"/>
<path d="M573.2 328.1 A3.1 3.1 50 1 1 568.7 331.9" fill="none" stroke="#111" stroke-width="1"/>
<path d="M587.3 325.1 A4.6 5.2 70 1 1 578.4 328.3" fill="none" stroke="#111" stroke-width="1.2"/>
<path d="M568.7 328 C569.4 329.5 570.7 335.1 572.8 336.9 C574.9 338.8 578.3 339.2 581.1 339 C583.8 338.8 587.9 336.1 589.3 335.5" fill="none" stroke="#111" stroke-width="1.2" />
<path d="M576 237.5 L577.5 231.5 L586.8 231 L586 237.7 Z" fill="#222" stroke="#111" stroke-width="0.8"/>
<line x1="572.9" y1="237.7" x2="585.9" y2="238.3" stroke="#111" stroke-width="1.3" stroke-linecap="butt"/>
<line x1="573.3" y1="242.1" x2="585.1" y2="242.7" stroke="#111" stroke-width="1.3" stroke-linecap="butt"/>
<line x1="573.7" y1="246.5" x2="584.3" y2="247.1" stroke="#111" stroke-width="1.3" stroke-linecap="butt"/>
<line x1="574.1" y1="250.9" x2="583.5" y2="251.5" stroke="#111" stroke-width="1.3" stroke-linecap="butt"/>
<line x1="574.5" y1="255.3" x2="582.8" y2="255.9" stroke="#111" stroke-width="1.3" stroke-linecap="butt"/>
<line x1="575" y1="259.7" x2="582.2" y2="260.3" stroke="#111" stroke-width="1.3" stroke-linecap="butt"/>
<line x1="575.4" y1="264.1" x2="581.5" y2="264.7" stroke="#111" stroke-width="1.3" stroke-linecap="butt"/>
<line x1="575.5" y1="268.5" x2="581.2" y2="269.1" stroke="#111" stroke-width="1.3" stroke-linecap="butt"/>
<line x1="575.5" y1="272.9" x2="580.9" y2="273.5" stroke="#111" stroke-width="1.3" stroke-linecap="butt"/>
<line x1="575.1" y1="277.3" x2="581.5" y2="277.9" stroke="#111" stroke-width="1.3" stroke-linecap="butt"/>
<line x1="574.2" y1="281.7" x2="583.1" y2="282.3" stroke="#111" stroke-width="1.3" stroke-linecap="butt"/>
<line x1="573.9" y1="286.1" x2="583.3" y2="286.7" stroke="#111" stroke-width="1.3" stroke-linecap="butt"/>
<line x1="573.6" y1="290.5" x2="583.4" y2="291.1" stroke="#111" stroke-width="1.3" stroke-linecap="butt"/>
<line x1="573.3" y1="294.9" x2="583.6" y2="295.5" stroke="#111" stroke-width="1.3" stroke-linecap="butt"/>
<line x1="573" y1="299.3" x2="583.7" y2="299.9" stroke="#111" stroke-width="1.3" stroke-linecap="butt"/>
<line x1="573" y1="303.7" x2="584" y2="304.3" stroke="#111" stroke-width="1.3" stroke-linecap="butt"/>
<line x1="573.6" y1="308.1" x2="584.7" y2="308.7" stroke="#111" stroke-width="1.3" stroke-linecap="butt"/>
<line x1="574.3" y1="312.5" x2="585.4" y2="313.1" stroke="#111" stroke-width="1.3" stroke-linecap="butt"/>
<line x1="575" y1="316.9" x2="586.1" y2="317.5" stroke="#111" stroke-width="1.3" stroke-linecap="butt"/>
<path d="M572.9 237.7 C573 238.4 573.2 240.6 573.3 242.1 C573.4 243.6 573.6 245 573.7 246.5 C573.8 248 574 249.4 574.1 250.9 C574.2 252.4 574.4 253.8 574.5 255.3 C574.7 256.8 574.8 258.2 575 259.7 C575.1 261.2 575.3 262.6 575.4 264.1 C575.5 265.6 575.5 267 575.5 268.5 C575.5 270 575.6 271.4 575.5 272.9 C575.4 274.4 575.3 275.8 575.1 277.3 C574.8 278.8 574.4 280.2 574.2 281.7 C574 283.2 574 284.6 573.9 286.1 C573.8 287.6 573.7 289 573.6 290.5 C573.5 292 573.4 293.4 573.3 294.9 C573.2 296.4 573.1 297.8 573 299.3 C573 300.8 572.9 302.2 573 303.7 C573.1 305.2 573.4 306.6 573.6 308.1 C573.9 309.6 574.1 311 574.3 312.5 C574.5 314 574.9 316.2 575 316.9" fill="none" stroke="#111" stroke-width="0.9" />
<path d="M585.9 238.3 C585.8 239 585.4 241.2 585.1 242.7 C584.8 244.2 584.6 245.6 584.3 247.1 C584 248.6 583.7 250 583.5 251.5 C583.2 253 583 254.4 582.8 255.9 C582.6 257.4 582.4 258.8 582.2 260.3 C581.9 261.8 581.7 263.2 581.5 264.7 C581.3 266.2 581.3 267.6 581.2 269.1 C581 270.6 580.8 272 580.9 273.5 C580.9 275 581.1 276.4 581.5 277.9 C581.9 279.4 582.8 280.8 583.1 282.3 C583.4 283.8 583.2 285.2 583.3 286.7 C583.3 288.2 583.4 289.6 583.4 291.1 C583.5 292.6 583.5 294 583.6 295.5 C583.6 297 583.6 298.4 583.7 299.9 C583.8 301.4 583.8 302.8 584 304.3 C584.2 305.8 584.4 307.2 584.7 308.7 C584.9 310.2 585.1 311.6 585.4 313.1 C585.6 314.6 585.9 316.8 586.1 317.5" fill="none" stroke="#111" stroke-width="0.9" />
<line x1="660" y1="396.5" x2="631.9" y2="335.9" stroke="#111" stroke-width="0.9"/>
<path d="M631.9 335.9 L635.5 339.8 L632.6 341.1 Z" fill="#111"/>
<path d="M583.3 272.1 C583.4 263.9 583.4 259.7 583.9 254.2 C584.5 248.7 585.2 243.9 586.7 239 C588.2 234.2 590.6 228.6 592.9 225.3 C595.2 221.9 597.9 220.3 600.5 219.1 C603 217.8 605.4 217.7 608 217.7 C610.7 217.7 613.1 218.4 616.3 219.1 C619.5 219.8 624.3 220.6 627.3 221.8 C630.3 223.1 632.1 224.5 634.2 226.6 C636.2 228.8 638.3 232.2 639.7 234.9 C641.1 237.7 641.7 238.3 642.4 243.2 C643.1 248 644.3 252.5 643.8 263.8 C643.3 275.2 640.8 301.5 639.7 311.3 C638.5 321 638.3 318.9 636.9 322.3 C635.5 325.7 633 329.9 631.4 331.9 C629.8 334 629.8 334.3 627.3 334.7 C624.8 335 618.6 333.8 616.3 334.1 C614 334.5 615.5 336.1 613.5 336.7 C611.6 337.4 607.3 338.5 604.6 338.1 C601.8 337.8 599.4 336.6 597 334.7 C594.6 332.7 592.1 329.6 590.1 326.4 C588.2 323.2 586.5 319.3 585.3 315.4 C584.2 311.5 583.6 310.3 583.3 303 C582.9 295.8 583.1 280.2 583.3 272.1 Z" fill="#fff" stroke="#111" stroke-width="1.7" />
<path d="M572.2 285.4 C575 285.1 584.2 284.3 588.8 283.8 C593.3 283.3 597.1 283 599.8 282.4 C602.4 281.8 601.1 280.9 604.6 280.3 C608 279.7 617.3 279.1 620.4 278.9 C623.6 278.8 623.2 279.2 623.4 279.6 C623.7 280.1 624.4 281.2 621.8 281.8 C619.2 282.4 610.9 282.6 608 283.2 C605.2 283.8 605.3 284.4 604.6 285.4 C603.9 286.4 604.7 288.4 603.9 289.3 C603.1 290.1 602.1 290 599.8 290.6 C597.5 291.3 592.9 291.3 590.1 293.4 C587.4 295.5 584.9 302.3 583.3 303 C581.7 303.7 582.3 299.4 580.5 297.5 C578.7 295.7 573.6 292.9 572.2 292" fill="#fff" stroke="#111" stroke-width="1.5" />
<path d="M604.6 289.3 C605.8 288.9 610.4 287 612.2 287.2 C613.9 287.4 613.8 289.4 614.9 290.6 C616.1 291.9 617.2 293.9 619 294.8 C620.9 295.7 624.2 296.3 625.9 296.1 C627.6 296 628.4 295.2 629.4 294.1 C630.3 292.9 630.6 289.8 631.4 289.3 C632.2 288.7 633.7 290.4 634.2 290.6" fill="none" stroke="#111" stroke-width="1.5" />
<path d="M616.3 219.8 C615.1 221.6 611.4 225.7 609.4 230.8 C607.5 235.8 605.7 243.2 604.6 250 C603.4 256.9 602.9 268.4 602.5 272.1" fill="none" stroke="#111" stroke-width="1" />
<path d="M606.9 220.5 C605.5 223.1 600.4 230.2 598.1 236.3 C595.8 242.4 594.2 250 593.2 256.9 C592.1 263.8 592 274.1 591.8 277.6" fill="none" stroke="#555" stroke-width="0.5" />
<path d="M611.1 219.8 C609.7 222.1 605.3 228 603.2 233.5 C601.1 239 599.7 245.9 598.7 252.8 C597.6 259.7 597.3 271.1 597 274.8" fill="none" stroke="#555" stroke-width="0.5" />
<path d="M599.8 292.7 C600 294.9 600.1 301.1 601.1 305.8 C602.2 310.5 603.7 316.3 606 320.9 C608.3 325.5 613.4 331.5 614.9 333.6" fill="none" stroke="#111" stroke-width="1" />
<path d="M590.1 297.5 C590.6 300.3 591.3 308.8 592.9 314 C594.5 319.3 598.6 326.6 599.8 329.2" fill="none" stroke="#555" stroke-width="0.5" />
<path d="M595 295.5 C595.3 298.1 595.6 306.1 597 311.3 C598.4 316.4 602.2 323.9 603.2 326.4" fill="none" stroke="#555" stroke-width="0.5" />
<ellipse cx="615.6" cy="238.3" rx="2.3" ry="6.2" fill="none" stroke="#111" stroke-width="1" transform="rotate(8 615.6 238.3)"/>
<ellipse cx="626.6" cy="233.5" rx="3.4" ry="6.2" fill="none" stroke="#111" stroke-width="1.5"/>
<ellipse cx="627.3" cy="233.8" rx="1.9" ry="4.1" fill="none" stroke="#111" stroke-width="1"/>
<ellipse cx="634.9" cy="241.1" rx="2.8" ry="6.9" fill="none" stroke="#111" stroke-width="1" transform="rotate(-8 634.9 241.1)"/>
<ellipse cx="611.1" cy="250" rx="3.4" ry="5.8" fill="none" stroke="#111" stroke-width="1.6"/>
<ellipse cx="611.6" cy="250" rx="1.8" ry="3.9" fill="none" stroke="#111" stroke-width="1"/>
<ellipse cx="605.5" cy="270" rx="2.8" ry="6.9" fill="none" stroke="#111" stroke-width="1"/>
<path d="M617.7 248.9 L620.4 248 L632.8 250 L635.5 255.5 L634.2 259.7 L617.7 258.6 Z" fill="#fff" stroke="#111" stroke-width="1.3" />
<path d="M620.4 248 L619.7 251.4 L632.8 252.8 L635.5 255.5" fill="none" stroke="#111" stroke-width="0.8" />
<path d="M614.9 261.3 L625.9 262.4 L630 263.8 L629.4 268.2 L614.9 266.8 Z" fill="#fff" stroke="#111" stroke-width="1.3" />
<path d="M630 263.8 L635.5 264.5 L635.5 269.3 L629.4 268.2" fill="none" stroke="#111" stroke-width="1.2" />
<path d="M616.3 266.8 L616.3 277.6 L620.4 277.8 L621.1 267.9" fill="none" stroke="#111" stroke-width="1.1" />
<path d="M612.2 259.7 L614.2 266.6 L613.5 272.1" fill="none" stroke="#111" stroke-width="1.3" />
<ellipse cx="611.9" cy="275.5" rx="2.5" ry="3" fill="none" stroke="#111" stroke-width="1.2"/>
<ellipse cx="611.9" cy="275.5" rx="1.1" ry="1.4" fill="none" stroke="#111" stroke-width="0.8"/>
<path d="M608 277.6 L623.2 278.9 L623.9 280.6 L608 280" fill="none" stroke="#111" stroke-width="1.2" />
<path d="M631.4 269.3 L632.1 284.4" fill="none" stroke="#111" stroke-width="0.8" />
<path d="M635.5 269.3 L636.2 284.4" fill="none" stroke="#111" stroke-width="0.8" />
<ellipse cx="608" cy="302.3" rx="2.8" ry="6.6" fill="none" stroke="#111" stroke-width="1.1" transform="rotate(8 608 302.3)"/>
<ellipse cx="610.1" cy="315.4" rx="1.4" ry="3" fill="none" stroke="#111" stroke-width="1"/>
<ellipse cx="619.3" cy="322.3" rx="3" ry="6.6" fill="none" stroke="#111" stroke-width="1.1" transform="rotate(8 619.3 322.3)"/>
<ellipse cx="630" cy="322.3" rx="1.4" ry="3" fill="none" stroke="#111" stroke-width="1"/>
<ellipse cx="635.5" cy="311.3" rx="2.8" ry="6.2" fill="none" stroke="#111" stroke-width="1.2"/>
<path d="M612.8 204.9 L629.4 204.9 L629.4 209.9 L612.8 209.9" fill="#fff" stroke="#111" stroke-width="1" />
<line x1="613.9" y1="209.3" x2="628.8" y2="209.3" stroke="#111" stroke-width="1"/>
<path d="M609.1 202.6 C609.9 202.4 612.2 201.6 612.8 203.1 C613.5 204.6 613.5 210.1 612.8 211.7 C612.2 213.2 609.9 212.3 609.1 212.2 C608.3 212.1 608.2 212.2 608 210.8 C607.8 209.4 607.8 205.3 608 203.9 C608.2 202.6 608.3 202.7 609.1 202.6 Z" fill="#fff" stroke="#111" stroke-width="1.2" />
<ellipse cx="637.6" cy="207.4" rx="2.8" ry="4.8" fill="#fff" stroke="#111" stroke-width="1.2"/>
<ellipse cx="637.9" cy="207.4" rx="1.2" ry="2.4" fill="none" stroke="#111" stroke-width="1"/>
<path d="M601.8 351.2 L619.7 351.2 L619.7 355.6 L601.8 355.6" fill="#fff" stroke="#111" stroke-width="1" />
<line x1="602.9" y1="355" x2="619.2" y2="355" stroke="#111" stroke-width="1"/>
<path d="M597.4 349.1 C598.3 349 601.1 348.3 601.8 349.7 C602.6 351.1 602.6 356.1 601.8 357.5 C601.1 358.9 598.3 358.2 597.4 358.1 C596.5 357.9 596.5 358 596.3 356.7 C596.1 355.4 596.1 351.8 596.3 350.5 C596.5 349.2 596.5 349.3 597.4 349.1 Z" fill="#fff" stroke="#111" stroke-width="1.2" />
<ellipse cx="627.3" cy="353.3" rx="2.5" ry="4.5" fill="#fff" stroke="#111" stroke-width="1.2"/>
<ellipse cx="627.6" cy="353.3" rx="1.1" ry="2.3" fill="none" stroke="#111" stroke-width="1"/>
<path d="M647.3 228.7 L656 218 L657.3 209.3 L660 206.7 L687.3 206.9 L715.3 207.3 L732 178.3 L735.3 174.6 L745.3 174.3 L747.3 176.3 L756 178.1 L758.4 184.7 L756 191.4 L758.7 202.3 L760 218.3 L760.7 234.3 L762.7 248 L765.3 261.3 L766 273.3 L765.3 286.7 L764 304 L766 298.3 L763.3 311.7 L758.7 327.7 L752 341 L746.7 350.3 L745.3 353.7 L740 353.8 L720 352.5 L710 353 L678 352.5 L670 352.3 L659.3 349 L651.3 341 L644.7 329 L640 314.3 L637.3 298.3 L638.3 270 L639.3 254 L642.7 239.3 Z" fill="#fff" stroke="#111" stroke-width="1.8" />
<path d="M647.3 228.7 L658.7 228.9 L658.7 231.6" fill="none" stroke="#111" stroke-width="1.5" />
<path d="M658.7 231.6 C657.7 233.6 654.3 238.7 652.7 243.3 C651 248 649.6 253.8 648.7 259.3 C647.8 264.9 647.6 270.2 647.3 276.7 C647.1 283.2 646.9 292.1 647.3 298.3 C647.8 304.6 648.7 309.2 650 314.3 C651.3 319.4 653.1 324.6 655.3 329 C657.6 333.4 660.4 338 663.3 341 C666.2 344 670.2 345.9 672.7 347 C675.1 348.1 677.1 347.6 678 347.7" fill="none" stroke="#111" stroke-width="0.7" />
<path d="M660.9 232.4 C660 234.3 656.7 239.4 655.1 244 C653.4 248.6 652 254.6 651.1 260 C650.2 265.4 649.9 270.2 649.7 276.7 C649.6 283.2 649.5 292.7 650 299 C650.5 305.3 651.3 309.4 652.7 314.3 C654 319.2 655.8 324.1 658 328.3 C660.2 332.6 663 337 665.7 339.9 C668.5 342.8 672.5 344.6 674.7 345.7 C676.8 346.8 678 346.4 678.7 346.6" fill="none" stroke="#555" stroke-width="0.5" />
<line x1="658.7" y1="232.7" x2="679.3" y2="232.7" stroke="#111" stroke-width="0.6"/>
<line x1="696.7" y1="232.9" x2="716.7" y2="233.3" stroke="#111" stroke-width="0.6"/>
<path d="M715.3 207.3 C714.9 208.7 714 213.1 712.7 215.3 C711.3 217.6 709.2 219.4 707.3 220.7 C705.4 221.9 702.3 222.3 701.3 222.7" fill="none" stroke="#111" stroke-width="1.3" />
<line x1="638" y1="298.3" x2="707.3" y2="299" stroke="#111" stroke-width="0.6"/>
<path d="M678 347.7 L736.7 349" fill="none" stroke="#111" stroke-width="1.2" />
<path d="M678 347.7 L677.5 351.9" fill="none" stroke="#111" stroke-width="1" />
<line x1="700" y1="299.3" x2="706" y2="299.3" stroke="#111" stroke-width="0.6"/>
<path d="M744 175.7 C742 180.6 736.4 195.2 732 205 C727.6 214.8 720.9 225.8 717.3 234.3 C713.8 242.8 712.2 249.5 710.7 256 C709.1 262.5 708.8 267.6 708 273.3 C707.2 279.1 706 285.6 706 290.7 C706 295.8 706.8 299.1 708 304 C709.2 308.9 711 314.7 713.3 320 C715.7 325.3 719 331.3 722 335.7 C725 340.1 728.9 344.1 731.3 346.3 C733.8 348.6 735.8 348.6 736.7 349" fill="none" stroke="#111" stroke-width="1" />
<path d="M746.7 181 C744.7 185.2 739.3 197.3 734.9 206.3 C730.6 215.3 724.2 226.7 720.7 235 C717.2 243.3 715.6 249.6 714 256 C712.4 262.4 712.1 267.6 711.3 273.3 C710.6 279.1 709.3 285.6 709.3 290.7 C709.3 295.8 710.1 299.1 711.3 304 C712.6 308.9 714.3 314.6 716.7 320 C719 325.4 722.4 332.1 725.3 336.3 C728.2 340.6 732.6 344.1 734 345.7" fill="none" stroke="#555" stroke-width="0.5" />
<path d="M732 205 C733.3 204.2 737.1 201.2 740 200.3 C742.9 199.5 746.7 199.4 749.3 199.9 C752 200.5 754.4 202.2 756 203.7 C757.6 205.2 758.2 208.1 758.7 209" fill="none" stroke="#111" stroke-width="0.7" />
<path d="M730 318.3 L728 343.7" fill="none" stroke="#555" stroke-width="0.5" />
<path d="M732.7 318.3 L731.1 344.3" fill="none" stroke="#555" stroke-width="0.5" />
<path d="M747.3 176.3 C747.1 176.7 746.4 176.9 746 178.3 C745.6 179.8 744.7 182.8 744.7 185 C744.7 187.2 745.4 190.3 746 191.7 C746.6 193 747.9 192.8 748.3 193" fill="none" stroke="#111" stroke-width="1.3" />
<line x1="746" y1="178.3" x2="756" y2="178.1" stroke="#111" stroke-width="1.2"/>
<line x1="746.9" y1="192.5" x2="756" y2="191.1" stroke="#111" stroke-width="1.2"/>
<ellipse cx="756" cy="184.7" rx="2.3" ry="6.4" fill="#fff" stroke="#111" stroke-width="1.3"/>
<ellipse cx="756.5" cy="184.7" rx="1.2" ry="4.3" fill="none" stroke="#111" stroke-width="0.7"/>
<line x1="733.1" y1="177.7" x2="731.7" y2="181" stroke="#111" stroke-width="1.5"/>
<path d="M738 218.3 C738.7 217.2 739.3 216.6 740.7 217 C742 217.4 744.9 219.4 746 221 C747.1 222.6 747.4 224.1 747.3 226.3 C747.2 228.6 746.2 232.6 745.3 234.3 C744.4 236.1 743.1 237.2 742 237 C740.9 236.8 739.6 235.2 738.7 233 C737.8 230.8 736.8 226.1 736.7 223.7 C736.6 221.2 737.3 219.4 738 218.3 Z" fill="none" stroke="#111" stroke-width="1.5" />
<path d="M740 219.7 C740.7 220.2 743.2 221.7 744 223 C744.8 224.3 744.8 225.8 744.7 227.7 C744.6 229.6 743.6 233.2 743.3 234.3" fill="none" stroke="#111" stroke-width="0.7" />
<path d="M721.3 231.7 C722.2 230.2 724.1 227.4 725.3 227 C726.6 226.6 728.2 227.3 728.7 229 C729.1 230.7 728.8 234.3 728 237 C727.2 239.7 725.2 244.1 724 245 C722.8 245.9 721.3 243.9 720.7 242.3 C720 240.8 719.9 237.4 720 235.7 C720.1 233.9 720.4 233.1 721.3 231.7 Z" fill="none" stroke="#111" stroke-width="1.5" />
<path d="M722.9 232.3 C723.4 231.9 725.4 228.9 726 229.7 C726.6 230.4 726.8 234.8 726.4 237 C726 239.2 724.2 242 723.7 243" fill="none" stroke="#111" stroke-width="0.7" />
<path d="M752.7 237 C753.3 235.4 754.4 234.3 755.3 234.3 C756.2 234.3 757.7 235.4 758 237 C758.3 238.6 758 242 757.3 243.7 C756.7 245.3 755 247 754 247 C753 247 751.6 245.3 751.3 243.7 C751.1 242 752 238.6 752.7 237 Z" fill="none" stroke="#111" stroke-width="1.3" />
<ellipse cx="732" cy="212.3" rx="1.6" ry="2.2" fill="none" stroke="#111" stroke-width="1"/>
<ellipse cx="732" cy="226.3" rx="1.3" ry="1.9" fill="none" stroke="#111" stroke-width="1"/>
<ellipse cx="733.3" cy="237" rx="1.3" ry="1.9" fill="none" stroke="#111" stroke-width="1"/>
<ellipse cx="748" cy="239.7" rx="1.1" ry="1.5" fill="none" stroke="#111" stroke-width="1"/>
<path d="M712.7 258.7 C713.2 254.4 714.3 254 715.3 253.3 C716.3 252.7 718.4 251.3 718.7 254.7 C718.9 258 717.4 268.9 716.7 273.3 C715.9 277.8 714.8 280.4 714 281.3 C713.2 282.2 712.2 282.4 712 278.7 C711.8 274.9 712.1 262.9 712.7 258.7 Z" fill="none" stroke="#111" stroke-width="1.5" />
<path d="M714.4 260 C714.7 259.4 716.2 254.4 716.3 256.7 C716.4 258.9 715.4 269.6 714.9 273.3 C714.4 277.1 713.6 278.3 713.3 279.3" fill="none" stroke="#111" stroke-width="0.7" />
<path d="M713.3 301.3 C713.8 299.8 715.6 297.6 716.7 297.3 C717.8 297.1 718.9 297.1 720 300 C721.1 302.9 723 311.3 723.3 314.7 C723.7 318 722.8 319.3 722 320 C721.2 320.7 720 320.9 718.7 318.7 C717.3 316.4 714.9 309.6 714 306.7 C713.1 303.8 712.9 302.9 713.3 301.3 Z" fill="none" stroke="#111" stroke-width="1.5" />
<path d="M715.3 302.4 C715.8 302.1 717 298.6 718 300.7 C719 302.7 721 311.8 721.3 314.7 C721.7 317.6 720.2 317.4 720 318" fill="none" stroke="#111" stroke-width="0.7" />
<path d="M757.3 298.7 C758.2 297.8 759.7 299.8 760 301.3 C760.3 302.9 759.9 306.4 759.3 308 C758.8 309.6 757.4 310.9 756.7 310.7 C755.9 310.4 754.6 308.7 754.7 306.7 C754.8 304.7 756.4 299.6 757.3 298.7 Z" fill="none" stroke="#111" stroke-width="1.3" />
<path d="M748 317.3 C748.4 315.8 750.4 315.1 751.3 316 C752.3 316.9 753.4 320.8 753.6 322.7 C753.8 324.6 753.1 326.9 752.3 327.3 C751.4 327.8 749.4 327 748.7 325.3 C748 323.7 747.6 318.9 748 317.3 Z" fill="none" stroke="#111" stroke-width="1.3" />
<ellipse cx="724" cy="253.3" rx="1.5" ry="1.9" fill="none" stroke="#111" stroke-width="1"/>
<ellipse cx="708.7" cy="291.3" rx="1.5" ry="1.9" fill="none" stroke="#111" stroke-width="1"/>
<ellipse cx="753.3" cy="309.3" rx="1.2" ry="1.5" fill="none" stroke="#111" stroke-width="1"/>
<ellipse cx="728" cy="316.7" rx="1.5" ry="1.9" fill="none" stroke="#111" stroke-width="1"/>
<ellipse cx="735.3" cy="314.7" rx="1.2" ry="1.5" fill="none" stroke="#111" stroke-width="1"/>
<ellipse cx="742.7" cy="322.7" rx="1.5" ry="1.9" fill="none" stroke="#111" stroke-width="1"/>
<path d="M713.3 298.3 C713.8 296.8 715.7 295.9 716.7 295.7 C717.7 295.4 717.8 292.8 719.3 297 C720.9 301.2 725.3 316.1 726 321 C726.7 325.9 724.2 325.7 723.3 326.3 C722.4 327 722.2 328.6 720.7 325 C719.1 321.4 715.2 309.4 714 305 C712.8 300.6 712.9 299.9 713.3 298.3 Z" fill="none" stroke="#111" stroke-width="1.5" />
<path d="M715.3 299.7 C715.8 299.6 716.6 295.4 718 299 C719.4 302.6 723.3 316.8 724 321 C724.7 325.2 722.6 323.8 722.3 324.3" fill="none" stroke="#111" stroke-width="0.7" />
<ellipse cx="708.7" cy="291.7" rx="1.3" ry="2" fill="none" stroke="#111" stroke-width="1"/>
<ellipse cx="728" cy="317" rx="1.3" ry="2" fill="none" stroke="#111" stroke-width="1"/>
<ellipse cx="734" cy="331.7" rx="1.1" ry="1.6" fill="none" stroke="#111" stroke-width="1"/>
<ellipse cx="742" cy="324.3" rx="1.3" ry="2" fill="none" stroke="#111" stroke-width="1"/>
<ellipse cx="742.7" cy="334.3" rx="1.3" ry="2" fill="none" stroke="#111" stroke-width="1"/>
<ellipse cx="744" cy="347" rx="1.1" ry="1.6" fill="none" stroke="#111" stroke-width="1"/>
<path d="M736.7 347.9 L739.3 301 L750.7 299.4" fill="none" stroke="#111" stroke-width="1.5" />
<ellipse cx="758" cy="303.7" rx="2.4" ry="4.7" fill="none" stroke="#111" stroke-width="1.3"/>
<ellipse cx="757.3" cy="303.7" rx="1.3" ry="3.5" fill="none" stroke="#111" stroke-width="0.7"/>
<path d="M747.3 319.7 C748.1 317.2 750.1 315.9 751.3 315.7 C752.6 315.4 754.7 315.7 754.7 318.3 C754.7 321 752.3 328.8 751.3 331.7 C750.3 334.6 749.4 335.9 748.7 335.7 C747.9 335.4 746.9 333 746.7 330.3 C746.4 327.7 746.6 322.1 747.3 319.7 Z" fill="none" stroke="#111" stroke-width="1.5" />
<path d="M748.7 320.7 C749.2 320.3 751.8 316.6 752 318.3 C752.2 320 750.3 328.9 750 331" fill="none" stroke="#111" stroke-width="0.7" />
<ellipse cx="753.3" cy="309.7" rx="0.8" ry="1.3" fill="none" stroke="#111" stroke-width="1"/>
<path d="M730 246.7 L738.7 243.3 L744 256 L746 261.3" fill="none" stroke="#111" stroke-width="1.3" />
<path d="M730 246.7 L726.7 254.7 L732.7 264 L736 273.3" fill="none" stroke="#111" stroke-width="1.3" />
<path d="M733.3 248 L740 257.3 L742.7 263.3" fill="none" stroke="#111" stroke-width="0.7" />
<path d="M732.7 254.7 L736.7 253.3 L736 260 L733.3 261.3" fill="none" stroke="#111" stroke-width="1" />
<path d="M748 254.7 L750.7 252 L758.7 251.3 L762.7 262.7 L764 268.7" fill="none" stroke="#111" stroke-width="1.3" />
<path d="M750 255.3 L757.3 254 L760.7 264" fill="none" stroke="#111" stroke-width="0.7" />
<path d="M724.7 278.7 C725.2 277.3 726 276.8 728 276 C730 275.2 734.9 275.2 736.7 274 C738.4 272.8 737.4 270.6 738.7 268.7 C739.9 266.8 741.9 263.8 744 262.7 C746.1 261.6 749.1 261.3 751.3 262 C753.6 262.7 755.8 264.3 757.3 266.7 C758.9 269 760.1 272.7 760.7 276 C761.2 279.3 761.2 283.6 760.7 286.7 C760.1 289.8 758.8 292.8 757.3 294.7 C755.9 296.6 754 297.6 752 298 C750 298.4 747.3 297 745.3 297.3 C743.3 297.7 741.2 299.8 740 300 C738.8 300.2 739.3 300.2 738 298.7 C736.7 297.1 733.9 292.3 732 290.7 C730.1 289 727.9 289.8 726.7 288.7 C725.4 287.6 725 285.7 724.7 284 C724.3 282.3 724.1 280 724.7 278.7 Z" fill="#fff" stroke="#111" stroke-width="1.6" />
<path d="M738.7 268.7 C738.9 270.6 739.1 276.3 740 280 C740.9 283.7 742 287.7 744 290.7 C746 293.7 750.7 296.8 752 298" fill="none" stroke="#555" stroke-width="0.6" />
<path d="M742.7 284 C743.3 285.6 744.9 291.2 746.7 293.3 C748.4 295.4 752.2 296.1 753.3 296.7" fill="none" stroke="#555" stroke-width="0.5" />
<line x1="672.2" y1="135.8" x2="680.8" y2="206.3" stroke="#111" stroke-width="0.9"/>
<path d="M680.8 206.3 L678.6 201.5 L681.8 201.1 Z" fill="#111"/>
<path d="M786.7 243.7 L792 233.7 L802.7 233 L805.3 237.7 L814.7 239 L817.3 242.3 L818.7 256 L819.3 280 L818.7 293.3 L812 302.7 L810.7 312 L806.7 315.3 L798.7 316 L792 309.3 L788 296 L785.3 280 L784.7 264 L785.3 248 Z" fill="#fff" stroke="#111" stroke-width="1.7" />
<path d="M793.3 246 L805.3 249.3 L808.3 252.3 L809.3 301.3 L806.7 304 L798.7 305.3 L793.3 302.7 L790.7 293.3 L788.3 249.3 Z" fill="none" stroke="#111" stroke-width="1.1" />
<path d="M808.3 252.3 L817.3 244.7" fill="none" stroke="#111" stroke-width="0.8" />
<path d="M809.3 301.3 L818 293.3" fill="none" stroke="#111" stroke-width="0.8" />
<path d="M806.7 250 L814.7 243.3" fill="none" stroke="#111" stroke-width="0.6" />
<path d="M792 233.7 L793.3 245 L792 251.7" fill="none" stroke="#111" stroke-width="0.7" />
<ellipse cx="800.3" cy="239" rx="1.9" ry="2.7" fill="none" stroke="#111" stroke-width="1.3"/>
<ellipse cx="805.3" cy="309.3" rx="2" ry="2.7" fill="none" stroke="#111" stroke-width="1.3"/>
<path d="M764 274.7 L768 270 L776 267.3 L785.3 266 L785.3 281.3 L780 284 L765.3 284.7 L763.3 280 Z" fill="#fff" stroke="#111" stroke-width="1.4" />
<path d="M764.7 277.3 L774.7 276.7 L775.3 283.3 L765.3 284 Z" fill="none" stroke="#111" stroke-width="1" />
<path d="M774.7 268.7 L783.3 267.3 L784 271.3 L775.3 272.7 Z" fill="none" stroke="#111" stroke-width="1" />
<path d="M768 278 L772 282.7" fill="none" stroke="#111" stroke-width="1" />
<path d="M772 278 L768.7 282.7" fill="none" stroke="#111" stroke-width="1" />
<path d="M780 273.3 L780 284" fill="none" stroke="#111" stroke-width="1" />
<ellipse cx="782.7" cy="328.3" rx="2.4" ry="5.1" fill="#fff" stroke="#111" stroke-width="1.4"/>
<ellipse cx="783.2" cy="328.3" rx="1.1" ry="2.7" fill="none" stroke="#111" stroke-width="1"/>
<ellipse cx="788.3" cy="328.3" rx="2.4" ry="4.7" fill="#fff" stroke="#111" stroke-width="1.4"/>
<ellipse cx="788.8" cy="328.3" rx="1.1" ry="2.4" fill="none" stroke="#111" stroke-width="1"/>
<path d="M792.7 326.6 L804.7 326.6 L804.7 330.3 L792.7 330.3 Z" fill="#fff" stroke="#111" stroke-width="1" />
<line x1="793.3" y1="329.8" x2="804" y2="329.8" stroke="#111" stroke-width="1"/>
<path d="M805.3 324.3 C806.3 323.7 809 324.1 810 324.7 C811 325.4 811.3 327.1 811.3 328.3 C811.3 329.6 811 331.6 810 332.3 C809 333.1 806.3 333.4 805.3 332.7 C804.4 332.1 804.3 329.7 804.3 328.3 C804.3 326.9 804.4 324.9 805.3 324.3 Z" fill="#fff" stroke="#111" stroke-width="1.3" />
<line x1="806.7" y1="325" x2="807.3" y2="332.3" stroke="#111" stroke-width="0.8"/>
<line x1="778.8" y1="137.7" x2="793.3" y2="232" stroke="#111" stroke-width="0.9"/>
<path d="M793.3 232 L791 227.3 L794.1 226.8 Z" fill="#111"/>
<circle cx="221.5" cy="121.5" r="10.6" fill="#fff" stroke="#111" stroke-width="1"/>
<text x="221.5" y="126" text-anchor="middle" font-size="12.6" class="cl" stroke="#111" stroke-width="0.25">1</text>
<circle cx="282.8" cy="122.2" r="10.6" fill="#fff" stroke="#111" stroke-width="1"/>
<text x="282.8" y="126.7" text-anchor="middle" font-size="12.6" class="cl" stroke="#111" stroke-width="0.25">2</text>
<circle cx="364.3" cy="123" r="10.6" fill="#fff" stroke="#111" stroke-width="1"/>
<text x="364.3" y="127.5" text-anchor="middle" font-size="12.6" class="cl" stroke="#111" stroke-width="0.25">3</text>
<circle cx="436.9" cy="122.5" r="10.6" fill="#fff" stroke="#111" stroke-width="1"/>
<text x="436.9" y="127" text-anchor="middle" font-size="12.6" class="cl" stroke="#111" stroke-width="0.25">4</text>
<circle cx="499.9" cy="123.9" r="10.6" fill="#fff" stroke="#111" stroke-width="1"/>
<text x="499.9" y="128.4" text-anchor="middle" font-size="12.6" class="cl" stroke="#111" stroke-width="0.25">5</text>
<circle cx="671.5" cy="125.3" r="10.6" fill="#fff" stroke="#111" stroke-width="1"/>
<text x="671.5" y="129.8" text-anchor="middle" font-size="12.6" class="cl" stroke="#111" stroke-width="0.25">6</text>
<circle cx="777.7" cy="127" r="10.6" fill="#fff" stroke="#111" stroke-width="1"/>
<text x="777.7" y="131.5" text-anchor="middle" font-size="12.6" class="cl" stroke="#111" stroke-width="0.25">7</text>
<circle cx="135.8" cy="403.7" r="10.6" fill="#fff" stroke="#111" stroke-width="1"/>
<text x="135.1" y="408.2" text-anchor="middle" font-size="12.6" class="cl" stroke="#111" stroke-width="0.25" letter-spacing="-1.2">14</text>
<circle cx="190.8" cy="403.8" r="10.6" fill="#fff" stroke="#111" stroke-width="1"/>
<text x="190.1" y="408.3" text-anchor="middle" font-size="12.6" class="cl" stroke="#111" stroke-width="0.25" letter-spacing="-1.2">13</text>
<circle cx="357.5" cy="404.5" r="10.6" fill="#fff" stroke="#111" stroke-width="1"/>
<text x="356.8" y="409" text-anchor="middle" font-size="12.6" class="cl" stroke="#111" stroke-width="0.25" letter-spacing="-1.2">12</text>
<circle cx="462.8" cy="405.4" r="10.6" fill="#fff" stroke="#111" stroke-width="1"/>
<text x="462.1" y="409.9" text-anchor="middle" font-size="12.6" class="cl" stroke="#111" stroke-width="0.25" letter-spacing="-1.2">11</text>
<circle cx="510.9" cy="405.4" r="10.6" fill="#fff" stroke="#111" stroke-width="1"/>
<text x="510.2" y="409.9" text-anchor="middle" font-size="12.6" class="cl" stroke="#111" stroke-width="0.25" letter-spacing="-1.2">10</text>
<circle cx="559" cy="405.8" r="10.6" fill="#fff" stroke="#111" stroke-width="1"/>
<text x="559" y="410.3" text-anchor="middle" font-size="12.6" class="cl" stroke="#111" stroke-width="0.25">9</text>
<circle cx="665.1" cy="406.5" r="10.6" fill="#fff" stroke="#111" stroke-width="1"/>
<text x="665.1" y="411" text-anchor="middle" font-size="12.6" class="cl" stroke="#111" stroke-width="0.25">8</text>
<rect x="0" y="652.4" width="900" height="1.8" fill="#000"/>
<g fill="none" stroke="#555" stroke-width="0.9">
<path d="M78 604.3 Q73.5 612 77 619.5"/>
<path d="M321.5 605.5 Q317.5 613 320.5 620" stroke="#999"/>
<path d="M569.5 603.3 Q564.5 611.5 568 619.3" stroke="#666"/>
<path d="M818.3 601.7 Q809 610.5 814.4 618.8" stroke="#333" stroke-width="1"/>
<path d="M96.5 606 Q98 612 96.5 617" stroke="#ccc"/>
<path d="M341 607 Q342 611 341 615" stroke="#ddd"/>
</g>
</svg>
</div>
</body>
</html>
